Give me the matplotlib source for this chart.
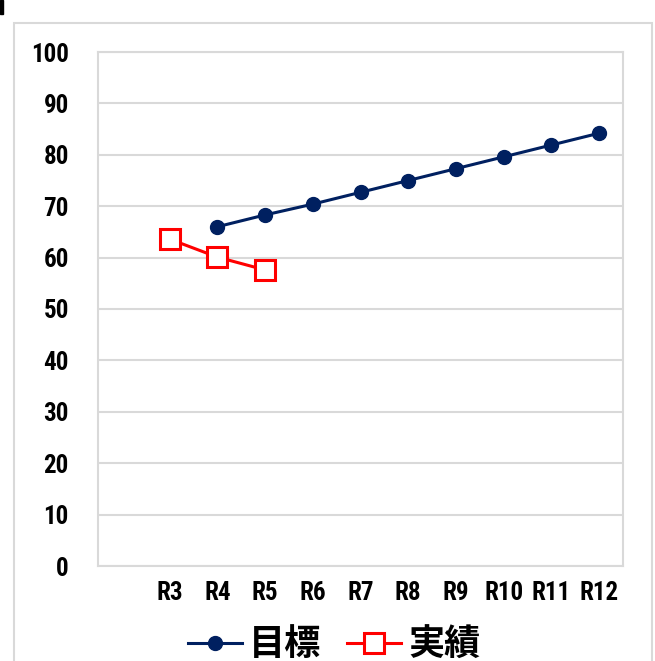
import matplotlib
matplotlib.use("Agg")
import matplotlib.pyplot as plt
from matplotlib.patches import Rectangle
from matplotlib import font_manager as fm

categories = ["", "R3", "R4", "R5", "R6", "R7", "R8", "R9", "R10", "R11", "R12"]
target = [None, None, 66.0, 68.3, 70.4, 72.7, 75.0, 77.3, 79.6, 81.9, 84.2]
actual = [None, 63.6, 60.1, 57.6, None, None, None, None, None, None, None]
yticks = [0, 10, 20, 30, 40, 50, 60, 70, 80, 90, 100]

names = {f.name for f in fm.fontManager.ttflist}
tick_font = next((n for n in ("Roboto Condensed", "PT Sans Narrow", "Archivo Narrow")
                  if n in names), "DejaVu Sans")
plt.rcParams["font.family"] = [tick_font, "Noto Sans CJK JP", "DejaVu Sans"]

fig = plt.figure(figsize=(6.55, 6.61), dpi=100)
ax = fig.add_axes([98 / 655, 1 - 566 / 661, (623 - 98) / 655, (566 - 52) / 661])

# outer chart frame and small corner mark
fig.patches.append(Rectangle((14 / 655, -0.05), (652 - 14) / 655, 0.05 + (661 - 23) / 661,
                             transform=fig.transFigure, fill=False, edgecolor="#d9d9d9",
                             linewidth=1.5, clip_on=False))
fig.patches.append(Rectangle((0, 1 - 14 / 661), 3 / 655, 14 / 661,
                             transform=fig.transFigure, color="black"))

x = list(range(len(categories)))
tx = [i for i, v in zip(x, target) if v is not None]
ty = [v for v in target if v is not None]
axx = [i for i, v in zip(x, actual) if v is not None]
ay = [v for v in actual if v is not None]

ax.plot(tx, ty, color="#002060", linewidth=2.2, marker="o", markersize=10,
        label="目標", zorder=3)
ax.plot(axx, ay, color="#ff0000", linewidth=2.2, marker="s", markersize=15,
        markerfacecolor="white", markeredgecolor="#ff0000", markeredgewidth=2.2,
        label="実績", zorder=4)

ax.set_xlim(-0.5, len(categories) - 0.5)
ax.set_ylim(0, 100)
ax.set_yticks(yticks)
ax.set_xticks(x)
ax.set_xticklabels(categories)
ax.grid(axis="y", color="#d9d9d9", linewidth=1.5)
ax.set_axisbelow(True)
for s in ax.spines.values():
    s.set_color("#d9d9d9")
    s.set_linewidth(1.5)
ax.tick_params(axis="both", length=0)
ax.tick_params(axis="y", pad=21)
ax.tick_params(axis="x", pad=11)
for lab in ax.get_xticklabels() + ax.get_yticklabels():
    lab.set_fontsize(18)
    lab.set_fontweight("bold")
    lab.set_family(tick_font)

leg = fig.legend(loc="center", bbox_to_anchor=(0.51, 1 - 645 / 661), ncol=2, frameon=False,
                 prop={"family": ["Noto Sans CJK JP"], "size": 26, "weight": "bold"},
                 handlelength=1.5, handletextpad=0.2, columnspacing=0.7)

fig.savefig("out.png", dpi=100)
